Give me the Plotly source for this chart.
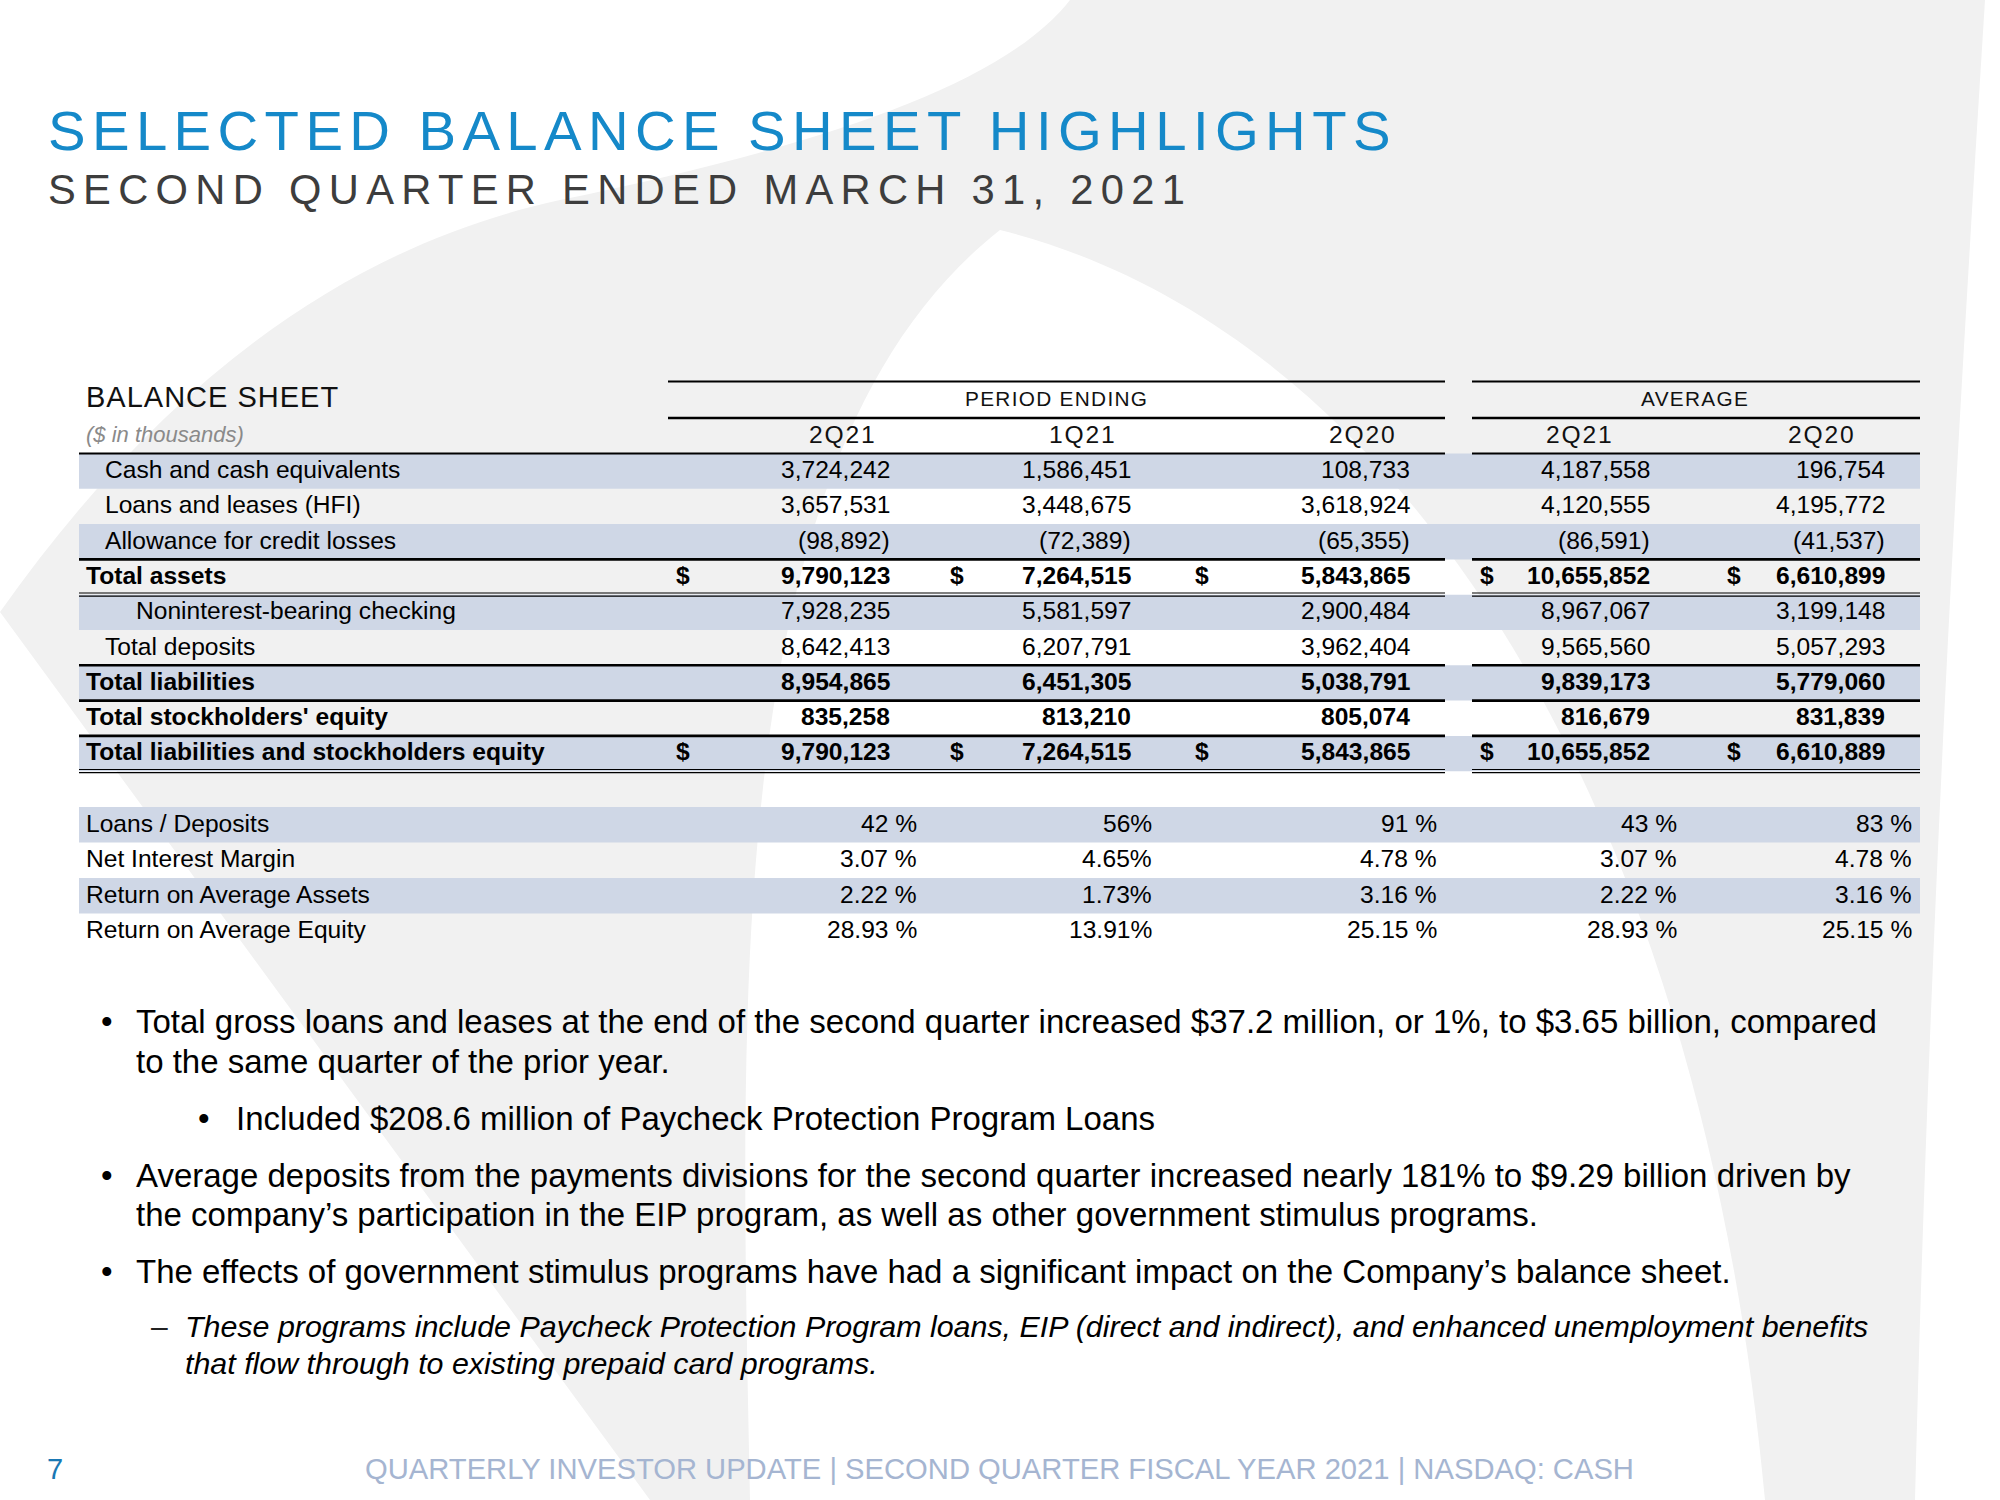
import plotly.graph_objects as go

# ---------------- data ----------------
title_text = "SELECTED BALANCE SHEET HIGHLIGHTS"
subtitle_text = "SECOND QUARTER ENDED MARCH 31, 2021"
section_label = "BALANCE SHEET"
units_label = "($ in thousands)"
group_labels = ["PERIOD ENDING", "AVERAGE"]
column_labels = ["2Q21", "1Q21", "2Q20", "2Q21", "2Q20"]

row_labels = [
    "Cash and cash equivalents",
    "Loans and leases (HFI)",
    "Allowance for credit losses",
    "Total assets",
    "Noninterest-bearing checking",
    "Total deposits",
    "Total liabilities",
    "Total stockholders' equity",
    "Total liabilities and stockholders equity",
]
row_indent = [1, 1, 1, 0, 2, 1, 0, 0, 0]
row_bold = [False, False, False, True, False, False, True, True, True]
row_dollar = [False, False, False, True, False, False, False, False, True]
row_shaded = [True, False, True, False, True, False, True, False, True]

pe_2q21 = [3724242, 3657531, -98892, 9790123, 7928235, 8642413, 8954865, 835258, 9790123]
pe_1q21 = [1586451, 3448675, -72389, 7264515, 5581597, 6207791, 6451305, 813210, 7264515]
pe_2q20 = [108733, 3618924, -65355, 5843865, 2900484, 3962404, 5038791, 805074, 5843865]
avg_2q21 = [4187558, 4120555, -86591, 10655852, 8967067, 9565560, 9839173, 816679, 10655852]
avg_2q20 = [196754, 4195772, -41537, 6610899, 3199148, 5057293, 5779060, 831839, 6610889]

ratio_labels = ["Loans / Deposits", "Net Interest Margin", "Return on Average Assets", "Return on Average Equity"]
ratio_pe_2q21 = [42, 3.07, 2.22, 28.93]
ratio_pe_1q21 = [56, 4.65, 1.73, 13.91]
ratio_pe_2q20 = [91, 4.78, 3.16, 25.15]
ratio_avg_2q21 = [43, 3.07, 2.22, 28.93]
ratio_avg_2q20 = [83, 4.78, 3.16, 25.15]
ratio_decimals = [0, 2, 2, 2]
ratio_suffix = [" %", "%", " %", " %", " %"]
ratio_shaded = [True, False, True, False]

bullet_marks = ["•", "•", "•", "•", "–"]
bullet_levels = [0, 1, 0, 0, 2]
bullet_lines = [
    ["Total gross loans and leases at the end of the second quarter increased $37.2 million, or 1%, to $3.65 billion, compared",
     "to the same quarter of the prior year."],
    ["Included $208.6 million of Paycheck Protection Program Loans"],
    ["Average deposits from the payments divisions for the second quarter increased nearly 181% to $9.29 billion driven by",
     "the company’s participation in the EIP program, as well as other government stimulus programs."],
    ["The effects of government stimulus programs have had a significant impact on the Company’s balance sheet."],
    ["These programs include Paycheck Protection Program loans, EIP (direct and indirect), and enhanced unemployment benefits",
     "that flow through to existing prepaid card programs."],
]
footer_text = "QUARTERLY INVESTOR UPDATE | SECOND QUARTER FISCAL YEAR 2021 | NASDAQ: CASH"
page_number = "7"

# ---------------- layout / style ----------------
W, H = 2000, 1500
FONT = "Liberation Sans, Arial, Helvetica, sans-serif"
BLUE = "#1589c9"
DARK = "#3d3d3d"
BAND = "#cfd7e6"
BG_GRAY = "#f1f1f1"
FOOT = "#a5b5d1"

columns = [pe_2q21, pe_1q21, pe_2q20, avg_2q21, avg_2q20]
ratio_columns = [ratio_pe_2q21, ratio_pe_1q21, ratio_pe_2q20, ratio_avg_2q21, ratio_avg_2q20]

col_right = [890.5, 1131.5, 1410.5, 1650.5, 1886]
col_center = [842, 1082, 1362, 1579, 1821]
dollar_left = [675, 949, 1193.5, 1478.6, 1726]
pct_right = [918, 1152.5, 1437.5, 1677.5, 1912.5]
indent_x = [84.7, 104.2, 134.7]
seg_left = [(79, 1445), (1472, 1920)]
seg_head = [(668, 1445), (1472, 1920)]
group_center = [1056, 1695]
band_x = (79, 1920)

row_top = [453.5 + 35.3 * i for i in range(len(row_labels) + 1)]
ratio_top = [807 + 35.5 * i for i in range(len(ratio_labels) + 1)]
TABLE_FS = 24.6


def fmt_num(v):
    s = f"{abs(v):,}"
    return f"({s})" if v < 0 else s


def fmt_pct(v, d, suffix):
    return f"{v:.{d}f}{suffix}"


fig = go.Figure()
fig.add_trace(go.Scatter(x=[0, W], y=[0, H], mode="markers", marker=dict(opacity=0),
                         hoverinfo="skip", showlegend=False))

shapes = []
# background watermark (decorative)
shapes.append(dict(type="path", xref="x", yref="y", layer="below", line=dict(width=0), fillcolor=BG_GRAY,
                   path="M 0,612 C 150,400 330,250 560,200 C 800,150 1000,90 1070,0 L 1985,0 "
                        "C 1960,400 1930,900 1915,1500 L 650,1500 Z"))
shapes.append(dict(type="path", xref="x", yref="y", layer="below", line=dict(width=0), fillcolor="white",
                   path="M 750,1500 C 740,1000 720,450 1000,230 C 1400,330 1700,800 1765,1500 Z"))

# row bands
for i, sh in enumerate(row_shaded):
    if sh:
        shapes.append(dict(type="rect", xref="x", yref="y", x0=band_x[0], x1=band_x[1],
                           y0=row_top[i], y1=row_top[i + 1], fillcolor=BAND, line=dict(width=0), layer="below"))
for i, sh in enumerate(ratio_shaded):
    if sh:
        shapes.append(dict(type="rect", xref="x", yref="y", x0=band_x[0], x1=band_x[1],
                           y0=ratio_top[i], y1=ratio_top[i + 1], fillcolor=BAND, line=dict(width=0), layer="below"))


def hline(y, segs, w):
    for a, b in segs:
        shapes.append(dict(type="line", xref="x", yref="y", x0=a, x1=b, y0=y, y1=y,
                           line=dict(color="black", width=w)))


# header rules
hline(381.4, seg_head, 2.0)
hline(418.0, seg_head, 2.6)
# row rules
rule_style = {0: "thin", 3: "thick", 4: "double", 6: "thick", 7: "thick", 8: "thick", 9: "double"}
for idx, st in rule_style.items():
    y = row_top[idx]
    if st == "thin":
        hline(y, seg_left, 2.2)
    elif st == "thick":
        hline(y, seg_left, 2.6)
    else:
        hline(y - 1.7, seg_left, 1.2)
        hline(y + 1.5, seg_left, 1.2)

ann = []


def text(x, y, s, size, color="black", anchor="left", family=FONT):
    ann.append(dict(x=x, y=y, xref="x", yref="y", text=s, showarrow=False, xanchor=anchor,
                    yanchor="middle", borderpad=0, font=dict(family=family, size=size, color=color)))


# titles
text(46.7, 130, f'<span style="letter-spacing:6.4px">{title_text}</span>', 56.3, BLUE)
text(46.7, 189, f'<span style="letter-spacing:7.3px">{subtitle_text}</span>', 41.7, DARK)

# table headers
text(84.7, 397, f'<span style="letter-spacing:1px">{section_label}</span>', 29, "#111111")
for g, cx in zip(group_labels, group_center):
    text(cx, 398, f'<span style="letter-spacing:1.3px">{g}</span>', 20.8, "#111111", "center")
text(84.7, 434, f"<i>{units_label}</i>", 22, "#8a8a8a")
for c, cx in zip(column_labels, col_center):
    text(cx, 434.5, f'<span style="letter-spacing:1.8px">{c}</span>', TABLE_FS, "#111111", "center")

# table body
for i, lab in enumerate(row_labels):
    yc = row_top[i] + 16.0
    s = f"<b>{lab}</b>" if row_bold[i] else lab
    text(indent_x[row_indent[i]], yc, s, TABLE_FS)
    for j, col in enumerate(columns):
        v = fmt_num(col[i])
        text(col_right[j], yc, f"<b>{v}</b>" if row_bold[i] else v, TABLE_FS, anchor="right")
        if row_dollar[i]:
            text(dollar_left[j], yc, "<b>$</b>", TABLE_FS)

for i, lab in enumerate(ratio_labels):
    yc = ratio_top[i] + 16.3
    text(84.7, yc, lab, TABLE_FS)
    for j, col in enumerate(ratio_columns):
        text(pct_right[j], yc, fmt_pct(col[i], ratio_decimals[i], ratio_suffix[j]), TABLE_FS, anchor="right")

# bullets
bullet_y = [[1021.7, 1061], [1118.6], [1175, 1214.6], [1271.7], [1326, 1363]]
mark_x = [106.5, 204, 159]
text_x = [135, 235, 184]
for k, lines in enumerate(bullet_lines):
    lvl = bullet_levels[k]
    italic = lvl == 2
    fs = 30.4 if italic else 33
    text(mark_x[lvl], bullet_y[k][0], bullet_marks[k], fs if not italic else 30, "#222222" if italic else "black", "center")
    for ln, yy in zip(lines, bullet_y[k]):
        text(text_x[lvl], yy, f"<i>{ln}</i>" if italic else ln, fs)

# footer
text(55, 1469, page_number, 29, "#1a78b4", "center")
text(363.5, 1469, footer_text, 29.2, FOOT)

fig.update_layout(
    width=W, height=H, margin=dict(l=0, r=0, t=0, b=0),
    paper_bgcolor="white", plot_bgcolor="white", showlegend=False,
    xaxis=dict(range=[0, W], visible=False, fixedrange=True),
    yaxis=dict(range=[H, 0], visible=False, fixedrange=True),
    shapes=shapes, annotations=ann,
)
fig.write_html("out.html", config={"displayModeBar": False},
               post_script="document.body.style.margin='0';document.body.style.overflow='hidden';")
